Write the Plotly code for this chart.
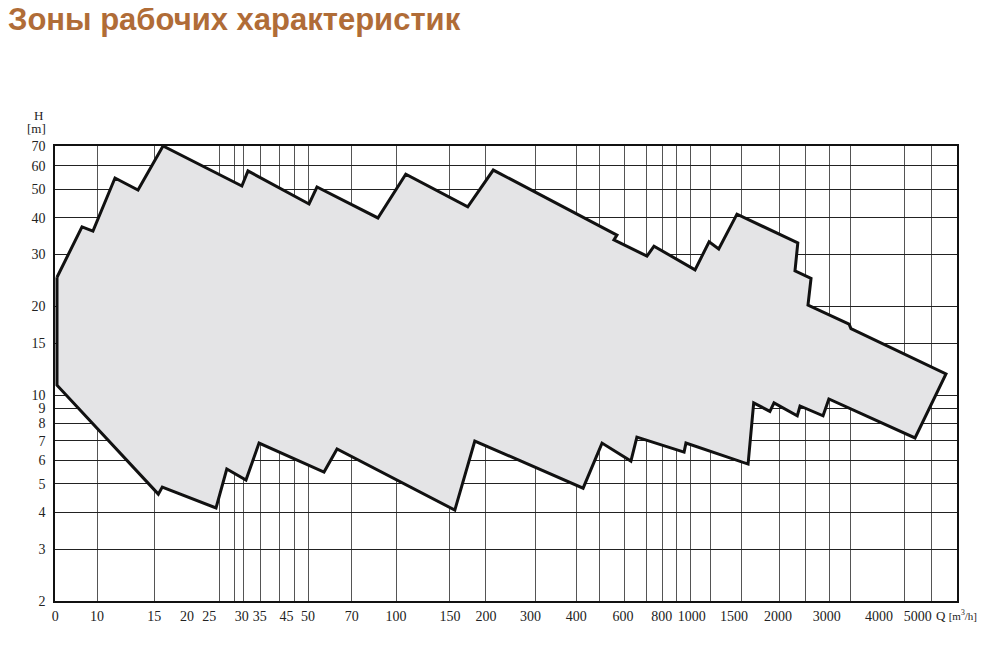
import math
import plotly.graph_objects as go

# operating zone outline (Q in m3/h, H in m), clockwise from the upper-left corner
q_zone = [7.33, 8.90, 9.69, 11.5, 13.75, 16.7, 30.8, 32.3, 51.9, 55.2, 88.6, 110,
          178, 217, 567, 554, 716, 756, 1040, 1160, 1250, 1440, 2310, 2260, 2560,
          2500, 3440, 3490, 7300, 5740, 2940, 2810, 2350, 2300, 1920, 1860, 1640,
          1570, 969, 955, 662, 632, 505, 436, 188, 161, 64.5, 58.3, 35.2, 31.8,
          27.4, 25.2, 16.6, 16.1, 7.33, 7.33]
h_zone = [25.1, 37.2, 36.0, 54.5, 49.6, 70, 51.2, 57.6, 44.5, 50.8, 39.9, 56.2,
          43.5, 58.0, 34.9, 33.6, 29.6, 32.0, 26.6, 33.1, 31.3, 41.1, 32.8, 26.4, 24.9,
          20.2, 17.4, 16.8, 11.8, 7.15, 9.7, 8.5, 9.18, 8.5, 9.4, 8.8, 9.4,
          5.83, 6.87, 6.4, 7.2, 5.97, 6.87, 4.83, 6.98, 4.07, 6.56, 5.48, 6.87, 5.15,
          5.61, 4.14, 4.87, 4.61, 10.8, 25.1]

# axis labels and where they sit on the printed scale
x_labels = ["10", "15", "20", "25", "30", "35", "45", "50", "70", "100", "150", "200",
            "300", "400", "600", "800", "1000", "1500", "2000", "3000", "4000", "5000"]
x_label_q = [10, 15.6, 20.1, 23.9, 30.8, 35.4, 43.6, 51.5, 72.3, 102, 155, 205,
             290, 413, 594, 803, 1013, 1408, 1981, 2891, 4339, 5861]
x_grid_q = [10, 15.57, 25.8, 29.0, 31.1, 35.7, 41.1, 46.2, 51.5, 71.9, 102, 155, 205,
            302, 413, 497, 599, 711, 805, 897, 1000, 1177, 1486, 1996, 2443, 2943,
            3465, 5270, 6548]
y_ticks = [2, 3, 4, 5, 6, 7, 8, 9, 10, 15, 20, 30, 40, 50, 60, 70]

x_lo, x_hi = 0.85835, 3.9005

serif = "Liberation Serif"

fig = go.Figure()
fig.add_trace(go.Scatter(
    x=q_zone, y=h_zone, mode="lines", fill="toself",
    fillcolor="#e4e4e6", line=dict(color="#111111", width=3),
    hoverinfo="skip", showlegend=False,
))

# page body has an 8px margin, so the figure is 8px smaller on each side
fig.update_layout(
    width=998, height=640,
    margin=dict(l=47, r=49, t=138, b=47),
    paper_bgcolor="white", plot_bgcolor="white",
    font=dict(family=serif, size=14, color="#222222"),
    title=dict(
        text="<b>Зоны рабочих характеристик</b>",
        font=dict(family="Liberation Sans", size=31, color="#b06c37"),
        xref="container", yref="container", x=0.0, xanchor="left",
        y=1.0, yanchor="top", pad=dict(t=0, l=0),
    ),
    xaxis=dict(
        type="log", range=[x_lo, x_hi],
        tickmode="array",
        tickvals=[10 ** x_lo * 1.002] + x_label_q,
        ticktext=["0"] + x_labels,
        showgrid=False, zeroline=False,
        ticks="outside", ticklen=1, tickcolor="rgba(0,0,0,0)",
        tickfont=dict(family=serif, size=14, color="#222222"),
        showline=True, mirror=True, linecolor="#111111", linewidth=1.5,
        minor=dict(tickmode="array", tickvals=x_grid_q, showgrid=True,
                   gridcolor="#555555", gridwidth=1, ticks=""),
    ),
    yaxis=dict(
        type="log", range=[math.log10(2), math.log10(70)],
        tickmode="array", tickvals=y_ticks, ticktext=[str(v) for v in y_ticks],
        showgrid=True, gridcolor="#222222", gridwidth=1, zeroline=False,
        ticks="outside", ticklen=5, tickcolor="rgba(0,0,0,0)",
        tickfont=dict(family=serif, size=14, color="#222222"),
        showline=True, mirror=True, linecolor="#111111", linewidth=1.5,
    ),
    annotations=[
        dict(text="H", xref="paper", yref="paper", x=-17 / 902, y=1 + 31 / 455,
             xanchor="center", yanchor="middle",
             showarrow=False, font=dict(family=serif, size=13, color="#222222")),
        dict(text="[m]", xref="paper", yref="paper", x=-19 / 902, y=1 + 17 / 455,
             xanchor="center", yanchor="middle",
             showarrow=False, font=dict(family=serif, size=13, color="#222222")),
        dict(text="Q <span style='font-size:11px'>[m<sup>3</sup>/h]</span>",
             xref="paper", yref="paper", x=1 - 1 / 902, y=-14 / 455,
             xanchor="center", yanchor="middle", showarrow=False,
             font=dict(family=serif, size=13, color="#222222")),
    ],
)

fig.write_html("out.html")
